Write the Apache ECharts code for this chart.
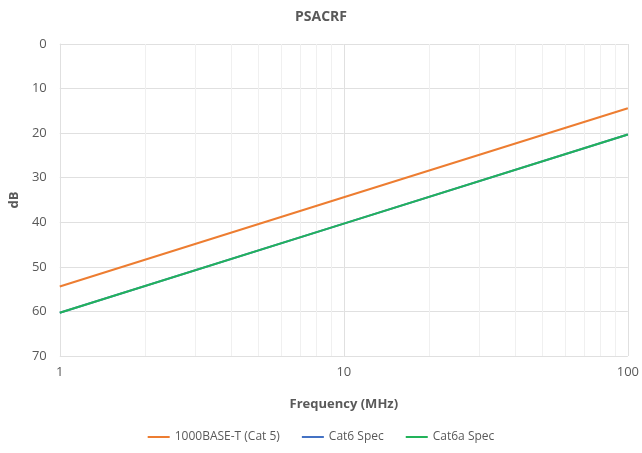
<!DOCTYPE html>
<html>
<head>
    <meta charset="utf-8">
    <title>PSACRF</title>
    <script src="https://cdn.jsdelivr.net/npm/echarts@6/dist/echarts.min.js"></script>
    <style>
        html, body { margin: 0; padding: 0; background: #fff; }
        #main { width: 642px; height: 453px; }
    </style>
</head>
<body>
<div id="main"></div>
<script type="text/javascript">
    // frequency points (MHz) and values (dB)
    var freq = [1, 10, 100];
    var base1000T = [54.4, 34.4, 14.4];
    var cat6Spec = [60.3, 40.3, 20.3];
    var cat6aSpec = [60.3, 40.3, 20.3];
    var minorTicks = [2, 3, 4, 5, 6, 7, 8, 9, 20, 30, 40, 50, 60, 70, 80, 90];
    var yTicks = [0, 10, 20, 30, 40, 50, 60, 70];

    function pairs(xs, ys) {
        return xs.map(function (x, i) { return [x, ys[i]]; });
    }

    var font = "'Open Sans', 'Liberation Sans', sans-serif";
    var gray = '#595959';

    var myChart = echarts.init(document.getElementById('main'));
    var option = {
        textStyle: { fontFamily: font },
        title: {
            text: 'PSACRF',
            left: 'center',
            top: 5,
            textStyle: { fontSize: 14, fontWeight: 'bold', color: gray, fontFamily: font }
        },
        legend: {
            bottom: 5,
            left: 'center',
            itemWidth: 22,
            itemHeight: 2,
            itemGap: 22,
            icon: 'rect',
            textStyle: { fontSize: 12, color: gray, fontFamily: font },
            data: ['1000BASE-T (Cat 5)', 'Cat6 Spec', 'Cat6a Spec']
        },
        grid: { left: 56, right: 13, top: 44, bottom: 97 },
        xAxis: {
            type: 'log',
            logBase: 10,
            min: 1,
            max: 100,
            name: 'Frequency (MHz)',
            nameLocation: 'middle',
            nameGap: 42,
            nameTextStyle: { fontSize: 13, fontWeight: 'bold', color: gray, fontFamily: font },
            axisLine: { show: false },
            axisTick: { show: false },
            axisLabel: { fontSize: 13, color: gray, margin: 10 },
            splitLine: { show: true, lineStyle: { color: '#e0e0e0', width: 1 } }
        },
        yAxis: {
            type: 'value',
            inverse: true,
            min: yTicks[0],
            max: yTicks[yTicks.length - 1],
            interval: 10,
            name: 'dB',
            nameLocation: 'middle',
            nameGap: 36,
            nameRotate: 90,
            nameTextStyle: { fontSize: 13, fontWeight: 'bold', color: gray, fontFamily: font },
            axisLine: { show: true, lineStyle: { color: '#e0e0e0' } },
            axisTick: { show: false },
            axisLabel: { fontSize: 13, color: gray, margin: 13 },
            splitLine: { show: true, lineStyle: { color: '#e0e0e0', width: 1 } }
        },
        series: [
            {
                name: 'minor',
                type: 'line',
                data: [],
                silent: true,
                z: 0,
                markLine: {
                    silent: true,
                    z: 0,
                    symbol: 'none',
                    animation: false,
                    label: { show: false },
                    lineStyle: { color: '#f0f0f0', width: 1, type: 'solid' },
                    data: minorTicks.map(function (v) { return { xAxis: v }; })
                }
            },
            {
                name: '1000BASE-T (Cat 5)',
                type: 'line',
                z: 3,
                data: pairs(freq, base1000T),
                showSymbol: false,
                lineStyle: { color: '#ed7d31', width: 2 },
                itemStyle: { color: '#ed7d31' }
            },
            {
                name: 'Cat6 Spec',
                type: 'line',
                z: 3,
                data: pairs(freq, cat6Spec),
                showSymbol: false,
                lineStyle: { color: '#4472c4', width: 2 },
                itemStyle: { color: '#4472c4' }
            },
            {
                name: 'Cat6a Spec',
                type: 'line',
                z: 4,
                data: pairs(freq, cat6aSpec),
                showSymbol: false,
                lineStyle: { color: '#22b35a', width: 2 },
                itemStyle: { color: '#22b35a' }
            }
        ]
    };
    myChart.setOption(option);
</script>
</body>
</html>
